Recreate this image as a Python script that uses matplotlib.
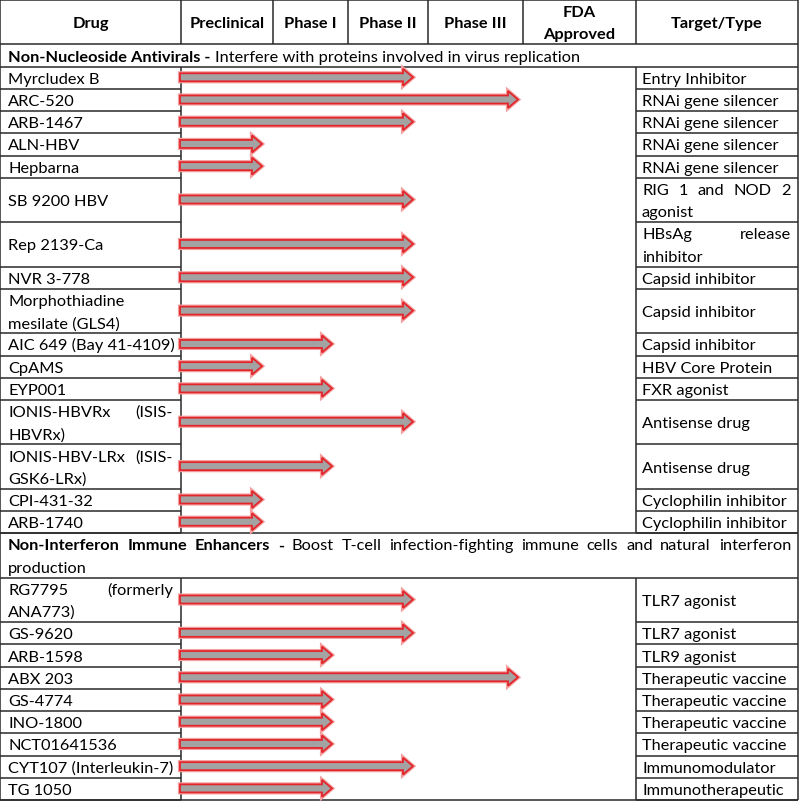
import matplotlib
matplotlib.use('Agg')
import matplotlib.pyplot as plt
from matplotlib.patches import Polygon

plt.rcParams['font.family'] = ['Lato', 'DejaVu Sans']

# ---------------- data ----------------
header_labels = ['Drug', 'Preclinical', 'Phase I', 'Phase II', 'Phase III', 'FDA\nApproved', 'Target/Type']

section1_title = 'Non-Nucleoside Antivirals -'
section1_desc = 'Interfere with proteins involved in virus replication'
section1_drugs = ['Myrcludex B', 'ARC-520', 'ARB-1467', 'ALN-HBV', 'Hepbarna', 'SB 9200 HBV',
                  'Rep 2139-Ca', 'NVR 3-778', 'Morphothiadine\nmesilate (GLS4)',
                  'AIC 649 (Bay 41-4109)', 'CpAMS', 'EYP001', 'IONIS-HBVRx (ISIS-\nHBVRx)',
                  'IONIS-HBV-LRx (ISIS-\nGSK6-LRx)', 'CPI-431-32', 'ARB-1740']
section1_targets = ['Entry Inhibitor', 'RNAi gene silencer', 'RNAi gene silencer', 'RNAi gene silencer',
                    'RNAi gene silencer', 'RIG 1 and NOD 2\nagonist', 'HBsAg release\ninhibitor',
                    'Capsid inhibitor', 'Capsid inhibitor', 'Capsid inhibitor', 'HBV Core Protein',
                    'FXR agonist', 'Antisense drug', 'Antisense drug', 'Cyclophilin inhibitor',
                    'Cyclophilin inhibitor']
# 1 = Preclinical, 2 = Phase I, 3 = Phase II, 4 = Phase III
section1_stage = [3, 4, 3, 1, 1, 3, 3, 3, 3, 2, 1, 2, 3, 2, 1, 1]

section2_title = 'Non-Interferon Immune Enhancers -'
section2_desc = 'Boost T-cell infection-fighting immune cells and natural interferon\nproduction'
section2_drugs = ['RG7795 (formerly\nANA773)', 'GS-9620', 'ARB-1598', 'ABX 203', 'GS-4774',
                  'INO-1800', 'NCT01641536', 'CYT107 (Interleukin-7)', 'TG 1050']
section2_targets = ['TLR7 agonist', 'TLR7 agonist', 'TLR9 agonist', 'Therapeutic vaccine',
                    'Therapeutic vaccine', 'Therapeutic vaccine', 'Therapeutic vaccine',
                    'Immunomodulator', 'Immunotherapeutic']
section2_stage = [3, 3, 2, 4, 2, 2, 2, 3, 2]

# ---------------- layout ----------------
W, H = 800, 805
UNIT = 800 / 36.0
col_edges = [0, 181, 273, 348, 428, 523, 636, 798]
stage_tip = {1: 262, 2: 332, 3: 413, 4: 518}
FS = 11.75
BASE = 6.0          # baseline offset below line centre
LINE_C = '#2a2a2a'
PAD = 8

fig = plt.figure(figsize=(W / 100, H / 100), dpi=100)
ax = fig.add_axes([0, 0, 1, 1])
ax.set_xlim(0, W)
ax.set_ylim(H, 0)
ax.axis('off')
renderer = fig.canvas.get_renderer()


def txt(x, yc, s, weight='normal', ha='left'):
    return ax.text(x, yc + BASE, s, fontsize=FS, fontweight=weight, va='baseline', ha=ha)


def word_width(word, weight='normal'):
    t = ax.text(0, 0, word, fontsize=FS, fontweight=weight)
    w = t.get_window_extent(renderer).width
    t.remove()
    return w


def justify_line(words, x0, x1, y, weights=None):
    if weights is None:
        weights = ['normal'] * len(words)
    widths = [word_width(w, wt) for w, wt in zip(words, weights)]
    if len(words) == 1:
        txt(x0, y, words[0], weights[0])
        return
    gap = (x1 - x0 - sum(widths)) / (len(words) - 1)
    x = x0
    for w, wt, wd in zip(words, weights, widths):
        txt(x, y, w, wt)
        x += wd + gap


def cell_text(text, x0, x1, top, h):
    lines = text.split('\n')
    off = (h - len(lines) * UNIT) / 2
    for i, ln in enumerate(lines):
        y = top + off + UNIT * (i + 0.5)
        if i < len(lines) - 1:
            justify_line(ln.split(' '), x0, x1, y)
        else:
            txt(x0, y, ln)


def hline(y, x0, x1, c=LINE_C, lw=1.1):
    ax.plot([x0, x1], [y, y], color=c, lw=lw, solid_capstyle='butt')


def vline(x, y0, y1, c=LINE_C, lw=1.1):
    ax.plot([x, x], [y0, y1], color=c, lw=lw, solid_capstyle='butt')


def arrow(x0, x1, yc):
    sh, hh, hl = 4.0, 8.5, 10.0
    pts = [(x0, yc - sh), (x1 - hl, yc - sh), (x1 - hl, yc - hh), (x1, yc),
           (x1 - hl, yc + hh), (x1 - hl, yc + sh), (x0, yc + sh)]
    ax.add_patch(Polygon(pts, closed=True, facecolor='none', edgecolor='#f4a0a0', lw=3.0, zorder=3))
    ax.add_patch(Polygon(pts, closed=True, facecolor='#a3a3a3', edgecolor='#e3262b', lw=1.3, zorder=4))


# header
hdr_h = 2 * UNIT
for i, lab in enumerate(header_labels):
    xc = (col_edges[i] + col_edges[i + 1]) / 2
    lines = lab.split('\n')
    if len(lines) == 1:
        txt(xc, hdr_h / 2, lab, 'bold', 'center')
    else:
        for j, ln in enumerate(lines):
            txt(xc, UNIT * (j + 0.5), ln, 'bold', 'center')
for x in col_edges:
    vline(x, 0, hdr_h)
hline(0, 0, col_edges[-1])
hline(hdr_h, 0, col_edges[-1])
y = hdr_h


def section(title, desc, drugs, targets, stages, y):
    desc_lines = desc.split('\n')
    n = len(desc_lines)
    sec_h = n * UNIT
    if n == 1:
        t = txt(PAD, y + UNIT / 2, title, 'bold')
        tw = t.get_window_extent(renderer).width
        txt(PAD + tw + word_width(' '), y + UNIT / 2, desc)
    else:
        tw = title.split(' ')
        dw = desc_lines[0].split(' ')
        justify_line(tw + dw, PAD, col_edges[-1] - 7, y + UNIT / 2,
                     ['bold'] * len(tw) + ['normal'] * len(dw))
        for i, ln in enumerate(desc_lines[1:], start=1):
            txt(PAD, y + UNIT * (i + 0.5), ln)
    vline(0, y, y + sec_h)
    vline(col_edges[-1], y, y + sec_h)
    y += sec_h
    hline(y, 0, col_edges[-1])
    y_start = y
    for d, t, s in zip(drugs, targets, stages):
        n_lines = max(len(d.split('\n')), len(t.split('\n')))
        h = n_lines * UNIT
        cell_text(d, PAD, col_edges[1] - 8, y, h)
        cell_text(t, col_edges[6] + 6, col_edges[-1] - 7, y, h)
        arrow(col_edges[1] - 1, stage_tip[s], y + h / 2 - 0.5)
        y += h
        hline(y, 0, col_edges[1])
        hline(y, col_edges[6], col_edges[-1])
    for x in [0, col_edges[1], col_edges[6], col_edges[-1]]:
        vline(x, y_start, y)
    return y


y = section(section1_title, section1_desc, section1_drugs, section1_targets, section1_stage, y)
hline(y, 0, col_edges[-1])
y = section(section2_title, section2_desc, section2_drugs, section2_targets, section2_stage, y)
hline(y, 0, col_edges[-1])

fig.savefig('out.png', dpi=100)
